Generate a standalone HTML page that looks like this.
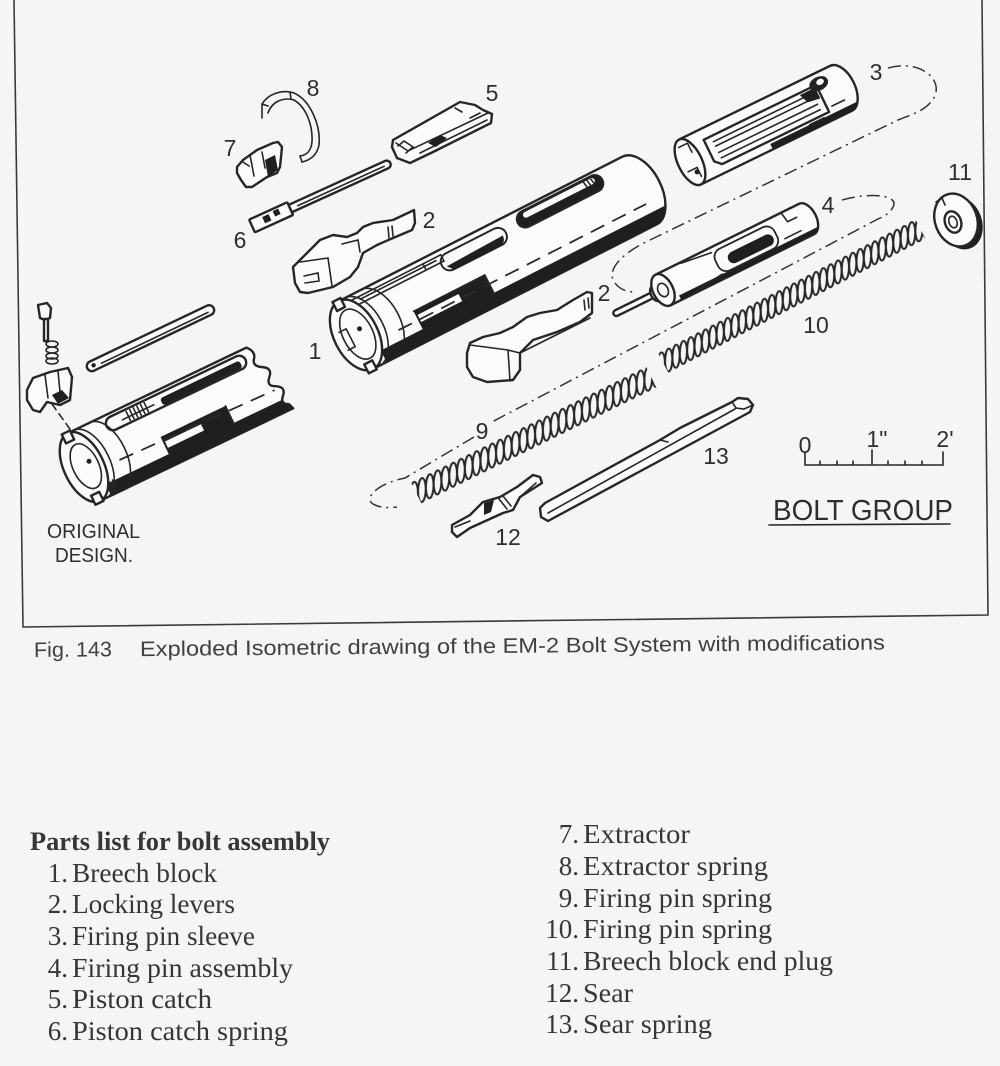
<!DOCTYPE html>
<html><head><meta charset="utf-8">
<style>
html,body{margin:0;padding:0;background:#f5f5f3;}
svg{display:block}
.s{fill:#fbfbf9;stroke:#262626;stroke-width:2.4;stroke-linejoin:round;stroke-linecap:round}
.l{fill:none;stroke:#262626;stroke-width:1.6;stroke-linecap:round}
.k{fill:#1f1f1f}
.dd{fill:none;stroke:#333;stroke-width:1.5;stroke-dasharray:13 5 2 5}
.dl{fill:none;stroke:#2a2a2a;stroke-width:1.8;stroke-dasharray:15 9}
.n{font-family:"Liberation Sans",sans-serif;font-size:23px;fill:#2e2e2e;text-anchor:middle}
.pl{font-family:"Liberation Serif",serif;font-size:27px;fill:#363636}
</style></head><body>
<svg width="1000" height="1066" viewBox="0 0 1000 1066" xmlns="http://www.w3.org/2000/svg">
<defs>
  <pattern id="coil9" patternUnits="userSpaceOnUse" x="0" y="-20" width="8.7" height="40">
    <ellipse cx="4.35" cy="20" rx="3.8" ry="12" fill="none" stroke="#262626" stroke-width="2" transform="rotate(28 4.35 20)"/>
    <ellipse cx="-4.35" cy="20" rx="3.8" ry="12" fill="none" stroke="#262626" stroke-width="2" transform="rotate(28 -4.35 20)"/>
    <ellipse cx="13.05" cy="20" rx="3.8" ry="12" fill="none" stroke="#262626" stroke-width="2" transform="rotate(28 13.05 20)"/>
  </pattern>
  <pattern id="coil10" patternUnits="userSpaceOnUse" x="0" y="-20" width="8.3" height="40">
    <ellipse cx="4.15" cy="20" rx="3.6" ry="11.5" fill="none" stroke="#262626" stroke-width="2" transform="rotate(29 4.15 20)"/>
    <ellipse cx="-4.15" cy="20" rx="3.6" ry="11.5" fill="none" stroke="#262626" stroke-width="2" transform="rotate(29 -4.15 20)"/>
    <ellipse cx="12.45" cy="20" rx="3.6" ry="11.5" fill="none" stroke="#262626" stroke-width="2" transform="rotate(29 12.45 20)"/>
  </pattern>
  <clipPath id="c1"><path d="M0,-38 L318,-38 A22,38 0 0 1 318,38 L0,38 Z"/></clipPath>
  <clipPath id="c3"><path d="M0,-25 L168,-25 A14,25 0 0 1 168,25 L0,25 Z"/></clipPath>
  <clipPath id="c4"><path d="M0,-17 L160,-17 A10,17 0 0 1 160,17 L0,17 Z"/></clipPath>
  <clipPath id="co"><path d="M0,-37.5 L198,-37.5 Q205,-30 200,-24 Q195,-18 204,-13 Q213,-8 206,-1 Q199,6 208,10 Q217,15 210,22 Q204,28 212,32 L214,37.5 L0,37.5 Z"/></clipPath>
</defs>

<!-- frame -->
<path d="M14,0 L23,627 L988,615 L982,0" fill="none" stroke="#3a3a3a" stroke-width="1.6"/>

<!-- dash-dot guide lines -->
<path class="dd" d="M888,68 C925,58 948,85 930,103 C922,112 910,115 898,120 L650,240 C618,255 606,272 615,283 C620,290 628,292 636,292"/>
<path class="dd" d="M842,200 C870,192 900,195 893,207 C890,213 885,216 878,219 L490,423"/>
<path class="dd" d="M474,437 L405,478 C375,484 362,500 375,505 C382,508 390,508 397,507"/>

<!-- part 8 extractor spring -->
<path class="l" stroke-width="2.2" d="M262,118 L262,104 C268,94 282,89 294,93 C310,100 321,125 319,145 C317,155 311,160 302,162"/>
<path class="l" stroke-width="2" d="M268,113 C272,101 284,97 294,100 C306,107 313,125 312,142 C311,151 307,155 300,156"/>
<path class="l" d="M262,104 L268,106 M302,162 L300,156 M290,92 L291,99"/>
<text class="n" x="313" y="96">8</text>

<!-- part 7 extractor -->
<path class="s" d="M237,167 L243,160 L257,150 L273,143 L278,142 L282,147 L280,167 L277,173 L267,177 L258,183 L252,187 L246,187 L241,180 L237,173 Z"/>
<path class="k" d="M265,160 L275,155 L278,170 L268,177 Z"/>
<path class="l" d="M250,155 L254,176 M262,152 L265,168 M243,162 L249,166"/>
<text class="n" x="230" y="156">7</text>

<!-- part 5 piston catch -->
<path class="s" d="M393,140 L460,102 L475,105 L483,110 L492,114 L491,123 L433,152 L410,163 L397,158 L392,147 Z"/>
<path class="l" d="M396,143 L408,151 L488,113 M420,153 L487,120 M398,146 L404,141 L413,147 L406,153"/>
<path class="k" d="M428,143 L440,135 L447,138 L436,147 Z"/>
<path class="l" d="M470,118 L480,113 M455,108 L462,112"/>
<text class="n" x="492" y="101">5</text>

<!-- part 6 piston catch spring -->
<g transform="translate(252,226) rotate(-24.5)">
  <rect class="s" x="0" y="-7" width="42" height="14" rx="1"/>
  <rect class="k" x="13" y="-4" width="7" height="7"/>
  <rect class="k" x="25" y="-5" width="6" height="6"/>
  <path class="s" d="M42,-4 L148,-4 A4,4 0 0 1 148,4 L42,4 Z"/>
  <path class="l" stroke-width="1" d="M50,0.5 L145,0.5"/>
</g>
<text class="n" x="240" y="248">6</text>

<!-- upper locking lever 2 -->
<path class="s" d="M300,260 L313,247 L320,240 L333,235 L347,237 L357,233 L363,227 L373,223 L393,220 L410,212 L414,210 L415,223 L412,230 L393,238 L377,245 L363,253 L358,267 L350,277 L333,287 L308,293 L300,292 L295,283 L293,267 Z"/>
<path class="l" d="M300,262 L328,258 L332,286 M304,276 L318,273 L319,281 L305,283 M342,244 L358,240 L360,252 M388,227 L389,238 M392,226 L393,236"/>
<text class="n" x="429" y="228">2</text>

<!-- main breech block 1 -->
<g transform="translate(356,335) rotate(-27)">
  <path class="s" stroke-width="2.6" d="M0,-38 L318,-38 A22,38 0 0 1 318,38 L0,38 Z"/>
  <g clip-path="url(#c1)">
    <rect class="k" x="15" y="25" width="335" height="15"/>
    <rect class="k" x="62" y="5" width="80" height="22"/>
    <rect x="64" y="10" width="46" height="8" fill="#fbfbf9"/>
  </g>
  <path class="l" d="M62,5 L142,5 L142,27"/>
  <rect x="195" y="-35" width="95" height="17" rx="8.5" fill="#1f1f1f" stroke="#262626" stroke-width="2"/>
  <rect x="203" y="-33" width="80" height="6" rx="3" fill="#fbfbf9"/>
  <path class="l" stroke-width="1.2" d="M272,-33 L273,-27 M276,-33 L277,-27 M280,-32 L281,-27"/>
  <rect x="108" y="-32" width="72" height="18" rx="9" fill="#fbfbf9" stroke="#262626" stroke-width="2"/>
  <path class="k" d="M112,-20 L176,-22 A9,9 0 0 1 171,-14 L117,-14 Z"/>
  <path class="l" d="M6,-33 L112,-33 L112,-26 L6,-26 M20,-30 L105,-30 M92,-33 L92,-26"/>
  <path class="dl" d="M40,15 L318,15"/>
  <path class="l" d="M12,-37 A22,38 0 0 1 12,37 M30,-37 A22,38 0 0 1 30,37"/>
  <ellipse class="s" cx="0" cy="0" rx="22" ry="38"/>
  <ellipse class="l" cx="2" cy="0" rx="15" ry="27"/>
  <rect class="s" x="-6" y="-40" width="9" height="10" stroke-width="1.6"/>
  <rect class="s" x="-6" y="30" width="9" height="10" stroke-width="1.6"/>
  <circle class="k" cx="6" cy="-4" r="2.5"/>
  <path class="l" d="M-14,-10 L-6,-10 L-6,10 L-14,10"/>
</g>
<text class="n" x="315" y="359">1</text>

<!-- part 3 firing pin sleeve -->
<g transform="translate(690,162) rotate(-26)">
  <path class="s" stroke-width="2.6" d="M0,-25 L168,-25 A14,25 0 0 1 168,25 L0,25 Z"/>
  <g clip-path="url(#c3)"><rect class="k" x="80" y="19" width="120" height="9"/></g>
  <path class="s" stroke-width="2" d="M22,-14 L142,-14 L147,-8 L147,16 L28,16 L22,10 Z"/>
  <path class="l" stroke-width="1.3" d="M30,-8 L140,-8 M30,-3 L140,-3 M30,4 L140,4 M30,10 L140,10"/>
  <path class="k" d="M128,-12 L145,-12 L145,0 L132,-2 Z"/>
  <ellipse cx="150" cy="-14" rx="9" ry="6" fill="#222" stroke="#262626" stroke-width="1.8"/>
  <ellipse cx="152" cy="-15" rx="4" ry="3" fill="#fbfbf9"/>
  <path class="l" d="M152,12 L166,12 M124,19 L140,19"/>
  <ellipse class="s" cx="0" cy="0" rx="12" ry="25"/>
  <path class="l" d="M-4,-18 L6,-18 L6,-8 M-6,8 L4,8 L4,18"/>
  <circle class="k" cx="2" cy="12" r="2.5"/>
</g>
<text class="n" x="876" y="80">3</text>

<!-- part 4 firing pin assembly -->
<g transform="translate(663,290) rotate(-26.3)">
  <rect class="s" stroke-width="2" x="-55" y="-3" width="52" height="6" rx="3"/>
  <ellipse class="s" stroke-width="2" cx="-8" cy="0" rx="5" ry="8"/>
  <path class="s" stroke-width="2.6" d="M0,-17 L160,-17 A10,17 0 0 1 160,17 L0,17 Z"/>
  <g clip-path="url(#c4)"><rect class="k" x="12" y="12" width="165" height="8"/></g>
  <path class="l" d="M28,-16 L60,-12 M28,16 L60,12"/>
  <rect x="60" y="-12" width="66" height="24" rx="9" fill="#fbfbf9" stroke="#262626" stroke-width="1.8"/>
  <rect class="k" x="72" y="-4" width="50" height="12" rx="6"/>
  <path class="l" d="M140,-17 L142,-6 L152,-6 M132,8 L150,8"/>
  <ellipse class="s" cx="0" cy="0" rx="10" ry="17"/>
  <ellipse class="l" cx="0" cy="0" rx="5" ry="7"/>
</g>
<text class="n" x="828" y="213">4</text>

<!-- part 11 end plug -->
<ellipse cx="961" cy="223" rx="21" ry="27" fill="#1f1f1f" transform="rotate(-20 961 223)"/>
<ellipse class="s" cx="956" cy="220" rx="21" ry="27" transform="rotate(-20 956 220)"/>
<ellipse class="s" stroke-width="2" cx="953" cy="222" rx="8" ry="11" transform="rotate(-20 953 222)"/>
<ellipse class="l" cx="953" cy="222" rx="4" ry="6" transform="rotate(-20 953 222)"/>
<path class="l" d="M936,202 L942,198 L945,205"/>
<text class="n" x="960" y="180">11</text>

<!-- springs -->
<g transform="translate(665,362) rotate(-27.5)">
  <rect x="-2" y="-15" width="290" height="30" fill="url(#coil10)"/>
</g>
<text class="n" x="816" y="333">10</text>
<g transform="translate(418,492) rotate(-26.2)">
  <rect x="-2" y="-15" width="262" height="30" fill="url(#coil9)"/>
</g>
<text class="n" x="482" y="439">9</text>

<!-- lower locking lever 2 -->
<path class="s" d="M467,353 L470,343 L483,337 L500,333 L513,327 L527,317 L540,313 L557,310 L573,300 L587,292 L592,293 L592,313 L580,322 L557,332 L533,340 L520,353 L520,370 L513,380 L487,382 L473,377 L467,367 Z"/>
<path class="l" d="M470,345 L508,350 L520,353 M508,350 L510,381 M522,352 L590,318 M584,300 L585,310 M588,298 L589,308"/>
<text class="n" x="604" y="301">2</text>

<!-- part 12 sear -->
<path class="s" d="M452,532 L452,525 L470,515 L483,502 L500,497 L517,487 L533,475 L540,477 L542,483 L520,497 L513,510 L503,513 L470,528 L457,537 Z"/>
<path class="k" d="M484,503 L494,500 L491,512 L484,515 Z"/>
<path class="l" d="M499,499 L507,509 M503,496 L511,506 M455,527 L470,521 M520,497 L536,483"/>
<text class="n" x="508" y="545">12</text>

<!-- part 13 sear spring -->
<path class="s" d="M540,508 L541,517 L548,521 L750,412 L753,405 L748,399 L738,398 L732,402 L680,428 L660,440 L545,503 Z"/>
<path class="l" d="M548,513 L735,409 M732,402 L738,398 L748,399 L753,405 L744,409 L736,408 Z M660,440 L668,442"/>
<text class="n" x="716" y="464">13</text>

<!-- scale -->
<text class="n" x="805" y="453" font-size="20">0</text>
<text class="n" x="877" y="447" font-size="20">1"</text>
<text class="n" x="945" y="447" font-size="20">2'</text>
<path class="l" d="M805,452 L805,465 L943,465 L943,452 M820,461 L820,465 M837,461 L837,465 M853,461 L853,465 M872,450 L872,465 M888,461 L888,465 M905,461 L905,465 M922,461 L922,465"/>
<text x="773" y="520" font-family="Liberation Sans, sans-serif" font-size="29" fill="#2e2e2e" textLength="180" lengthAdjust="spacingAndGlyphs">BOLT  GROUP</text>
<path class="l" d="M769,525 L950,524"/>

<!-- ORIGINAL DESIGN -->
<path class="s" d="M38,305 L47,303 L51,308 L50,318 L45,320 L40,318 Z"/>
<rect class="s" stroke-width="1.6" x="44" y="319" width="4" height="22"/>
<ellipse class="l" cx="52" cy="344" rx="6" ry="3"/>
<ellipse class="l" cx="52" cy="350" rx="6" ry="3"/>
<ellipse class="l" cx="52" cy="356" rx="6" ry="3"/>
<ellipse class="l" cx="52" cy="361" rx="6" ry="3"/>
<path class="s" d="M27,390 L33,378 L50,372 L68,368 L72,377 L70,400 L60,405 L47,402 L40,412 L33,410 L27,400 Z"/>
<path class="k" d="M52,395 L62,390 L69,398 L58,404 Z"/>
<path class="l" d="M45,375 L48,398 M58,371 L60,392"/>
<path class="l" stroke-dasharray="7 5" d="M52,404 L72,432"/>

<g transform="translate(90,367) rotate(-25.5)">
  <rect class="s" x="-3" y="-5" width="140" height="10" rx="5"/>
  <circle class="k" cx="4" cy="0" r="2.2"/>
  <path class="l" stroke-width="1" d="M12,1.5 L130,1.5"/>
</g>

<g transform="translate(84,467) rotate(-25.6)">
  <path class="s" stroke-width="2.6" d="M0,-37.5 L198,-37.5 Q205,-30 200,-24 Q195,-18 204,-13 Q213,-8 206,-1 Q199,6 208,10 Q217,15 210,22 Q204,28 212,32 L214,37.5 L0,37.5 Z"/>
  <g clip-path="url(#co)">
    <rect class="k" x="12" y="25" width="220" height="15"/>
    <rect class="k" x="82" y="6" width="72" height="21"/>
    <rect x="84" y="12" width="40" height="7" fill="#fbfbf9"/>
  </g>
  <path class="l" d="M154,6 L154,27"/>
  <path class="s" stroke-width="2" d="M45,-20 L185,-20 A7,7 0 0 0 185,-34 L45,-34 A7,7 0 0 0 45,-20 Z"/>
  <rect class="k" x="98" y="-29" width="88" height="8" rx="3"/>
  <path class="l" stroke-width="1.2" d="M62,-32 L62,-22 M66,-32 L66,-22 M70,-32 L70,-22 M74,-32 L74,-22 M78,-32 L78,-22 M82,-32 L82,-22 M55,-26 L90,-26"/>
  <path class="dl" d="M35,9 L205,13"/>
  <path class="l" d="M10,-37 A20,37.5 0 0 1 10,37 M28,-37 A20,37.5 0 0 1 28,37"/>
  <ellipse class="s" cx="0" cy="0" rx="20" ry="37.5"/>
  <ellipse class="l" cx="2" cy="0" rx="13" ry="24"/>
  <rect class="s" stroke-width="1.6" x="-6" y="-39" width="9" height="10"/>
  <rect class="s" stroke-width="1.6" x="-6" y="29" width="9" height="10"/>
  <circle class="k" cx="7" cy="-3" r="2.5"/>
  <path class="l" stroke-width="1.2" d="M14,26 L14,34 M17,25 L17,33 M20,24 L20,32"/>
</g>
<text x="47" y="538" font-family="Liberation Sans, sans-serif" font-size="20" fill="#2e2e2e" textLength="93" lengthAdjust="spacingAndGlyphs">ORIGINAL</text>
<text x="55" y="562" font-family="Liberation Sans, sans-serif" font-size="20" fill="#2e2e2e" textLength="78" lengthAdjust="spacingAndGlyphs">DESIGN.</text>

<!-- caption -->
<g transform="rotate(-0.5 34 657)" font-family="Liberation Sans, sans-serif" font-size="21" fill="#404040">
  <text x="34" y="657" textLength="78" lengthAdjust="spacingAndGlyphs">Fig. 143</text>
  <text x="140" y="657" textLength="745" lengthAdjust="spacingAndGlyphs">Exploded Isometric drawing of the EM-2 Bolt System with modifications</text>
</g>

<!-- parts list -->
<text x="30" y="850" font-family="Liberation Serif, serif" font-weight="bold" font-size="26" fill="#363636" textLength="300" lengthAdjust="spacingAndGlyphs">Parts list for bolt assembly</text>
<g class="pl">
  <text x="68" y="882" text-anchor="end">1.</text><text x="72" y="882" textLength="145" lengthAdjust="spacingAndGlyphs">Breech block</text>
  <text x="68" y="913" text-anchor="end">2.</text><text x="72" y="913" textLength="163" lengthAdjust="spacingAndGlyphs">Locking levers</text>
  <text x="68" y="945" text-anchor="end">3.</text><text x="72" y="945" textLength="183" lengthAdjust="spacingAndGlyphs">Firing pin sleeve</text>
  <text x="68" y="977" text-anchor="end">4.</text><text x="72" y="977" textLength="221" lengthAdjust="spacingAndGlyphs">Firing pin assembly</text>
  <text x="68" y="1008" text-anchor="end">5.</text><text x="72" y="1008" textLength="140" lengthAdjust="spacingAndGlyphs">Piston catch</text>
  <text x="68" y="1040" text-anchor="end">6.</text><text x="72" y="1040" textLength="216" lengthAdjust="spacingAndGlyphs">Piston catch spring</text>

  <text x="579" y="843" text-anchor="end">7.</text><text x="583" y="843" textLength="107" lengthAdjust="spacingAndGlyphs">Extractor</text>
  <text x="579" y="875" text-anchor="end">8.</text><text x="583" y="875" textLength="185" lengthAdjust="spacingAndGlyphs">Extractor spring</text>
  <text x="579" y="907" text-anchor="end">9.</text><text x="583" y="907" textLength="189" lengthAdjust="spacingAndGlyphs">Firing pin spring</text>
  <text x="579" y="938" text-anchor="end">10.</text><text x="583" y="938" textLength="189" lengthAdjust="spacingAndGlyphs">Firing pin spring</text>
  <text x="579" y="970" text-anchor="end">11.</text><text x="583" y="970" textLength="250" lengthAdjust="spacingAndGlyphs">Breech block end plug</text>
  <text x="579" y="1002" text-anchor="end">12.</text><text x="583" y="1002" textLength="50" lengthAdjust="spacingAndGlyphs">Sear</text>
  <text x="579" y="1033" text-anchor="end">13.</text><text x="583" y="1033" textLength="129" lengthAdjust="spacingAndGlyphs">Sear spring</text>
</g>
</svg>
</body></html>
